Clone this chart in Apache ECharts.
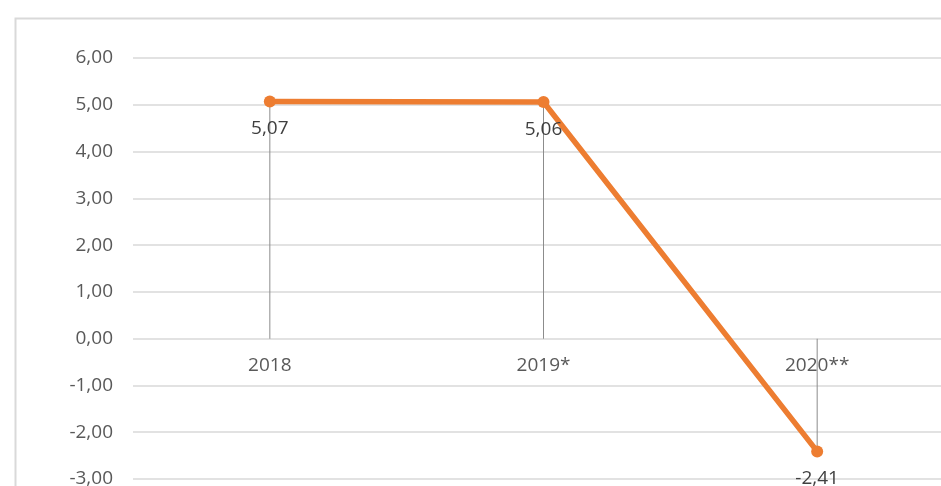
<!DOCTYPE html>
<html>
<head>
<meta charset="utf-8">
<script src="https://cdn.jsdelivr.net/npm/echarts@6/dist/echarts.min.js"></script>
<style>
html,body{margin:0;padding:0;background:#fff;}
#c{width:941px;height:486px;}
</style>
</head>
<body>
<div id="c"></div>
<script>
var categories = ['2018', '2019*', '2020**'];
var values = [5.07, 5.06, -2.41];
var yMin = -3, yMax = 6, yStep = 1;

function fmt(v){ return v.toFixed(2).replace('.', ','); }

var chart = echarts.init(document.getElementById('c'), null, {renderer:'canvas'});
chart.setOption({
  backgroundColor: '#ffffff',
  animation: false,
  textStyle: { fontFamily: 'Open Sans' },
  graphic: [{
    type: 'rect', left: 13, top: 16, silent: true,
    shape: { x: 0, y: 0, width: 1000, height: 1000 },
    style: { fill: 'none', stroke: '#d9d9d9', lineWidth: 2 }
  }],
  grid: { left: 133, right: -13, top: 58, bottom: 7, containLabel: false, outerBoundsMode: 'none' },
  xAxis: {
    type: 'category',
    data: categories,
    boundaryGap: true,
    offset: -141,
    axisLine: { show: false, onZero: false },
    axisTick: { show: false },
    axisLabel: { color: '#595959', fontSize: 19, margin: 18, fontFamily: 'Open Sans' },
    splitLine: { show: false }
  },
  yAxis: {
    type: 'value',
    min: yMin, max: yMax, interval: yStep,
    axisLine: { show: false },
    axisTick: { show: false },
    axisLabel: { color: '#595959', fontSize: 19, margin: 20, fontFamily: 'Open Sans', formatter: fmt },
    splitLine: { lineStyle: { color: '#d9d9d9', width: 1.5 } }
  },
  series: [{
    type: 'bar',
    data: values,
    barWidth: 1,
    silent: true,
    itemStyle: { color: '#8c8c8c' },
    z: 1
  }, {
    type: 'line',
    data: values,
    symbol: 'circle',
    symbolSize: 12,
    lineStyle: { color: '#ED7D31', width: 5.5 },
    itemStyle: { color: '#ED7D31' },
    label: {
      show: true, position: 'bottom', distance: 12,
      color: '#404040', fontSize: 19, fontFamily: 'Open Sans',
      formatter: function(p){ return fmt(p.value); }
    },
    z: 3
  }]
});
</script>
</body>
</html>
